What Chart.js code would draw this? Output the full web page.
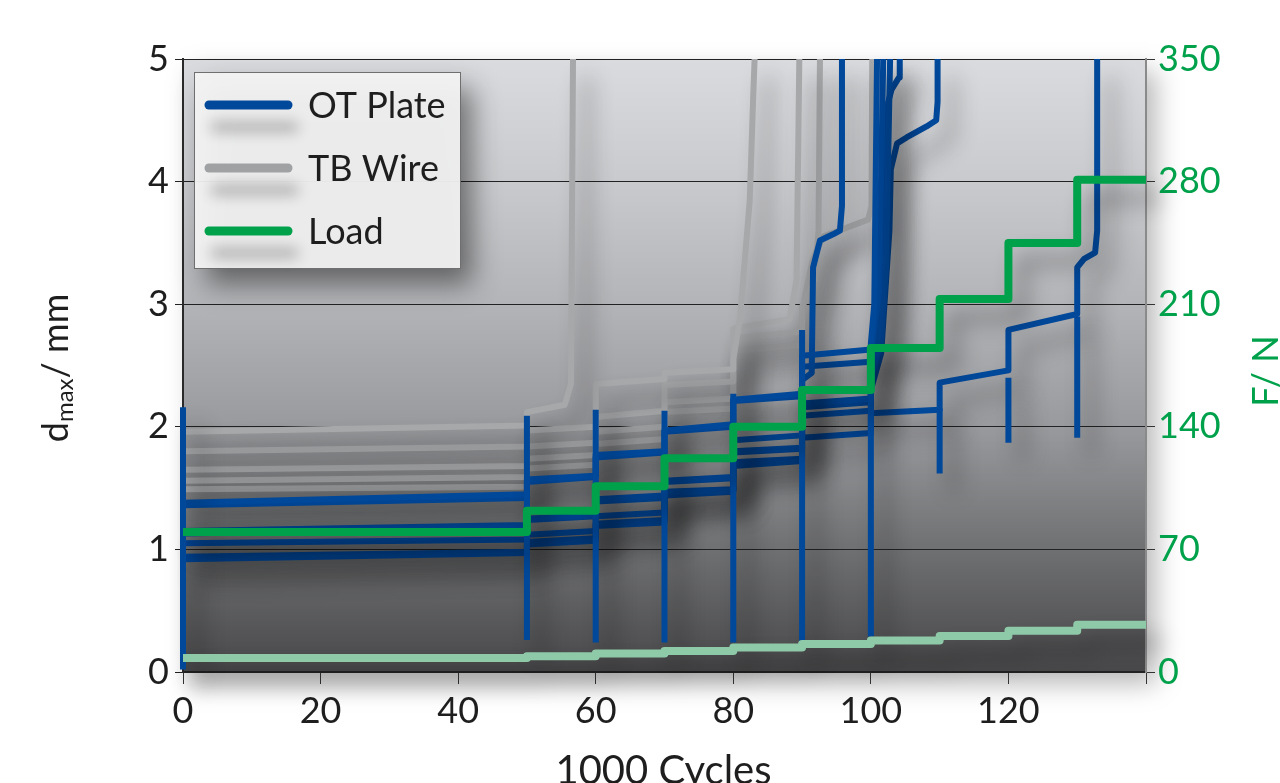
<!DOCTYPE html>
<html>
<head>
<meta charset="utf-8">
<script src="https://cdn.jsdelivr.net/npm/chart.js@4.4.1/dist/chart.umd.min.js"></script>
<style>
  html, body { margin: 0; padding: 0; background: #fff; }
  #wrap { width: 1280px; height: 783px; }
</style>
</head>
<body>
<div id="wrap"><canvas id="chart" width="1280" height="783"></canvas></div>
<script>
/* =========================================================
   DATA (1000 cycles / mm / N)
========================================================= */
const stepStarts = [0, 50, 60, 70, 80, 90, 100, 110, 120, 130, 140];
const loadN     = [80, 92, 106, 122, 140, 161, 185, 213, 245, 281];
const loadLowN  = [8, 9, 10.5, 12, 14, 16, 18, 20.5, 23.5, 27];

const xTickLabels = [0, 20, 40, 60, 80, 100, 120];

// unloading spikes at every load step (mm)
const spikeX    = [0, 50, 60, 70, 80, 90, 100, 110, 120, 130];
const spikeLow  = [0.02, 0.26, 0.24, 0.24, 0.24, 0.25, 0.29, 1.62, 1.87, 1.91];
const spikeHigh = [2.16, 2.09, 2.14, 2.13, 2.27, 2.79, 2.65, 2.15, 2.40, 2.90];

// OT Plate specimens: [start, end] displacement per load step, then failure path [x, y]
const otPlateA = [[1.38, 1.45], [1.57, 1.60], [1.77, 1.80], [1.97, 2.02], [2.22, 2.27], [2.58, 2.63]];
const otPlateATail = [[100, 2.68], [100.5, 3.0], [100.9, 5.0]];
const otPlateB = [[1.36, 1.42], [1.55, 1.59], [1.75, 1.79], [1.96, 2.00], [2.21, 2.25]];
const otPlateBTail = [[90, 2.38], [91.4, 2.44], [91.6, 3.3], [92.6, 3.52], [94.5, 3.57], [95.5, 3.6], [95.8, 3.8], [95.8, 5.0]];
const otPlateC = [[1.15, 1.20], [1.25, 1.28], [1.41, 1.44], [1.56, 1.59], [1.89, 1.93], [2.49, 2.53]];
const otPlateCTail = [[100, 2.6], [101.2, 3.1], [101.8, 5.0]];
const otPlateD = [[1.13, 1.18], [1.24, 1.27], [1.39, 1.42], [1.55, 1.58], [1.80, 1.83], [2.19, 2.23]];
const otPlateDTail = [[100, 2.4], [101.5, 2.7], [102.2, 3.3], [102.8, 5.0]];
const otPlateE = [[1.05, 1.08], [1.12, 1.15], [1.27, 1.30], [1.46, 1.48], [1.79, 1.82], [2.09, 2.13]];
const otPlateETail = [[100, 2.45], [101, 2.75], [102.3, 4.6], [103.0, 4.75], [104.1, 4.85], [104.2, 5.0]];
const otPlateF = [[0.92, 0.97], [1.04, 1.07], [1.19, 1.22], [1.44, 1.47], [1.68, 1.72], [1.91, 1.95], [2.11, 2.14], [2.36, 2.46], [2.79, 2.92]];
const otPlateFTail = [[130, 3.30], [131, 3.37], [132.6, 3.42], [132.9, 3.6], [132.9, 5.0]];
const otPlateG = [[0.94, 0.98], [1.06, 1.09], [1.21, 1.24], [1.47, 1.49], [1.71, 1.74], [2.16, 2.20]];
const otPlateGTail = [[100, 2.3], [101.5, 2.6], [102.7, 3.6], [102.9, 4.1], [103.8, 4.31], [105.2, 4.36], [108.1, 4.45], [109.5, 4.5], [109.7, 4.65], [109.7, 5.0]];

// TB Wire specimens
const tbWireA = [[1.96, 2.01]];
const tbWireATail = [[50, 2.12], [55.5, 2.18], [56.4, 2.35], [56.7, 5.0]];
const tbWireB = [[1.80, 1.84], [1.97, 2.00], [2.35, 2.39], [2.44, 2.47]];
const tbWireBTail = [[80, 2.55], [81, 2.9], [82.4, 3.85], [82.9, 4.7], [83.1, 5.0]];
const tbWireC = [[1.65, 1.68], [1.84, 1.87], [2.08, 2.13], [2.34, 2.37]];
const tbWireCTail = [[80, 2.80], [88.2, 2.88], [89.2, 3.2], [89.6, 5.0]];
const tbWireD = [[1.56, 1.59], [1.74, 1.77], [1.96, 2.00], [2.20, 2.23], [2.72, 2.78]];
const tbWireDTail = [[90, 2.98], [91.8, 3.2], [92.4, 3.6], [92.6, 5.0]];
const tbWireE = [[1.49, 1.51], [1.66, 1.69], [1.86, 1.90], [2.12, 2.15], [2.62, 2.67]];
const tbWireETail = [[90, 2.95], [91.5, 3.35], [93, 3.55], [99.6, 3.69], [100.1, 3.8], [100.2, 5.0]];

/* =========================================================
   STYLE
========================================================= */
const BLUE = "#00489a";
const GRAY = "#a7a8aa";
const GREEN = "#00a14b";
const PALE_GREEN = "#8fcaa8";
const FONT = "Lato, 'Open Sans', sans-serif";

/* =========================================================
   BUILD SERIES
========================================================= */
function specimen(levels, tail) {
  const pts = [];
  levels.forEach((lv, i) => {
    pts.push({ x: stepStarts[i], y: lv[0] }, { x: stepStarts[i + 1], y: lv[1] });
  });
  tail.forEach(p => pts.push({ x: p[0], y: p[1] }));
  return pts;
}

function steps(values) {
  const pts = values.map((v, i) => ({ x: stepStarts[i], y: v }));
  pts.push({ x: stepStarts[stepStarts.length - 1], y: values[values.length - 1] });
  return pts;
}

function spikes() {
  const pts = [];
  spikeX.forEach((x, i) => {
    pts.push({ x, y: spikeLow[i] }, { x, y: spikeHigh[i] }, { x, y: null });
  });
  return pts;
}

function lineSet(label, data, color, width, axis) {
  return {
    label, data,
    borderColor: color,
    borderWidth: width,
    pointRadius: 0,
    fill: false,
    tension: 0,
    spanGaps: false,
    clip: false,
    borderJoinStyle: "round",
    yAxisID: axis || "y"
  };
}

const datasets = [
  Object.assign(lineSet("Load", steps(loadN), GREEN, 8, "yN"), { stepped: true }),
  Object.assign(lineSet("Load (low)", steps(loadLowN), PALE_GREEN, 8, "yN"), { stepped: true }),
  lineSet("OT Plate", spikes(), BLUE, 6),
  lineSet("OT Plate", specimen(otPlateA, otPlateATail), BLUE, 6),
  lineSet("OT Plate", specimen(otPlateB, otPlateBTail), BLUE, 6),
  lineSet("OT Plate", specimen(otPlateC, otPlateCTail), BLUE, 6),
  lineSet("OT Plate", specimen(otPlateD, otPlateDTail), BLUE, 6),
  lineSet("OT Plate", specimen(otPlateE, otPlateETail), BLUE, 6),
  lineSet("OT Plate", specimen(otPlateF, otPlateFTail), BLUE, 6),
  lineSet("OT Plate", specimen(otPlateG, otPlateGTail), BLUE, 6),
  lineSet("TB Wire", specimen(tbWireA, tbWireATail), GRAY, 6),
  lineSet("TB Wire", specimen(tbWireB, tbWireBTail), GRAY, 6),
  lineSet("TB Wire", specimen(tbWireC, tbWireCTail), GRAY, 6),
  lineSet("TB Wire", specimen(tbWireD, tbWireDTail), GRAY, 6),
  lineSet("TB Wire", specimen(tbWireE, tbWireETail), GRAY, 6)
];

/* =========================================================
   PLUGINS
========================================================= */
const backdrop = {
  id: "backdrop",
  beforeDraw(chart) {
    const { ctx, chartArea: a } = chart;
    ctx.save();
    ctx.fillStyle = "#fff";
    ctx.fillRect(0, 0, chart.width, chart.height);
    const g = ctx.createLinearGradient(0, a.top, 0, a.bottom);
    g.addColorStop(0, "#dadbde");
    g.addColorStop(0.2, "#c9cacd");
    g.addColorStop(0.4, "#b3b4b7");
    g.addColorStop(0.6, "#999a9d");
    g.addColorStop(0.8, "#6f7072");
    g.addColorStop(1, "#48484a");
    ctx.shadowColor = "rgba(0,0,0,0.28)";
    ctx.shadowBlur = 24;
    ctx.shadowOffsetX = 10;
    ctx.shadowOffsetY = 12;
    ctx.fillStyle = g;
    ctx.fillRect(a.left, a.top, a.width, a.height);
    ctx.restore();
  }
};

const lineShadow = {
  id: "lineShadow",
  beforeDatasetsDraw(chart) {
    const c = chart.ctx;
    c.save();
    c.shadowColor = "rgba(0,0,0,0.42)";
    c.shadowBlur = 22;
    c.shadowOffsetX = 14;
    c.shadowOffsetY = 18;
  },
  afterDatasetsDraw(chart) {
    chart.ctx.restore();
  }
};

const legendEntries = [["OT Plate", BLUE], ["TB Wire", "#a0a1a3"], ["Load", GREEN]];

const legendBox = {
  id: "legendBox",
  afterDraw(chart) {
    const { ctx, chartArea: a } = chart;
    const x = a.left + 11, y = a.top + 13, w = 266, h = 196;
    ctx.save();
    ctx.shadowColor = "rgba(0,0,0,0.5)";
    ctx.shadowBlur = 26;
    ctx.shadowOffsetX = 12;
    ctx.shadowOffsetY = 16;
    ctx.fillStyle = "rgba(243,243,243,0.94)";
    ctx.fillRect(x, y, w, h);
    ctx.shadowColor = "transparent";
    ctx.strokeStyle = "#6f6f6f";
    ctx.lineWidth = 1;
    ctx.strokeRect(x + 0.5, y + 0.5, w, h);

    legendEntries.forEach(([label, color], i) => {
      const cy = y + 33 + i * 63;
      ctx.save();
      ctx.shadowColor = "rgba(0,0,0,0.3)";
      ctx.shadowBlur = 14;
      ctx.shadowOffsetX = 6;
      ctx.shadowOffsetY = 22;
      ctx.strokeStyle = color;
      ctx.lineWidth = 9;
      ctx.lineCap = "round";
      ctx.beginPath();
      ctx.moveTo(x + 15, cy);
      ctx.lineTo(x + 94, cy);
      ctx.stroke();
      ctx.restore();
      ctx.fillStyle = "#1e1e1e";
      ctx.font = "36px " + FONT;
      ctx.textBaseline = "middle";
      ctx.textAlign = "left";
      ctx.fillText(label, x + 114, cy + 1);
    });
    ctx.restore();
  }
};

const axisTitles = {
  id: "axisTitles",
  afterDraw(chart) {
    const { ctx, chartArea: a } = chart;
    ctx.save();
    ctx.fillStyle = "#1e1e1e";
    ctx.textBaseline = "alphabetic";

    // x title
    ctx.font = "40px " + FONT;
    ctx.textAlign = "center";
    ctx.fillText("1000 Cycles", (a.left + a.right) / 2 - 1, 784);

    // left title with subscript
    const big = "36px " + FONT, small = "24px " + FONT;
    ctx.font = big; const wd = ctx.measureText("d").width;
    const wr = ctx.measureText("/ mm").width;
    ctx.font = small; const ws = ctx.measureText("max").width;
    const total = wd + ws + wr;
    ctx.save();
    ctx.translate(68, 368);
    ctx.rotate(-Math.PI / 2);
    ctx.textAlign = "left";
    let px = -total / 2;
    ctx.font = big; ctx.fillText("d", px, 0); px += wd;
    ctx.font = small; ctx.fillText("max", px, 5); px += ws;
    ctx.font = big; ctx.fillText("/ mm", px, 0);
    ctx.restore();

    // right title
    ctx.save();
    ctx.fillStyle = GREEN;
    ctx.font = big;
    ctx.translate(1278, 371);
    ctx.rotate(-Math.PI / 2);
    ctx.textAlign = "center";
    ctx.fillText("F/ N", 0, 0);
    ctx.restore();

    ctx.restore();
  }
};

/* =========================================================
   CHART
========================================================= */
new Chart(document.getElementById("chart"), {
  type: "line",
  data: { datasets },
  plugins: [backdrop, lineShadow, legendBox, axisTitles],
  options: {
    responsive: false,
    animation: false,
    layout: { padding: { top: 59, left: 0, right: 0, bottom: 0 } },
    plugins: { legend: { display: false }, tooltip: { enabled: false } },
    scales: {
      x: {
        type: "linear",
        min: 0,
        max: 140,
        afterFit: s => { s.height = 111; },
        ticks: {
          stepSize: 20,
          autoSkip: false,
          maxRotation: 0,
          padding: 6,
          color: "#1e1e1e",
          font: { family: FONT, size: 36 },
          callback: v => (xTickLabels.includes(v) ? String(v) : "")
        },
        grid: { drawOnChartArea: false, drawTicks: true, tickLength: 12, color: "#333" },
        border: { color: "#222", width: 1.5 }
      },
      y: {
        position: "left",
        min: 0,
        max: 5,
        afterFit: s => { s.width = 183; },
        ticks: {
          stepSize: 1,
          padding: 6,
          color: "#1e1e1e",
          font: { family: FONT, size: 36 }
        },
        grid: { color: "#222", lineWidth: 1, drawTicks: true, tickLength: 8 },
        border: { color: "#2a2a2a", width: 2 }
      },
      yN: {
        position: "right",
        min: 0,
        max: 350,
        afterFit: s => { s.width = 134; },
        ticks: {
          stepSize: 70,
          padding: 3,
          color: GREEN,
          font: { family: FONT, size: 36 }
        },
        grid: { drawOnChartArea: false, drawTicks: true, tickLength: 9, color: "#333" },
        border: { color: "#8a8a8a", width: 2 }
      }
    }
  }
});
</script>
</body>
</html>
